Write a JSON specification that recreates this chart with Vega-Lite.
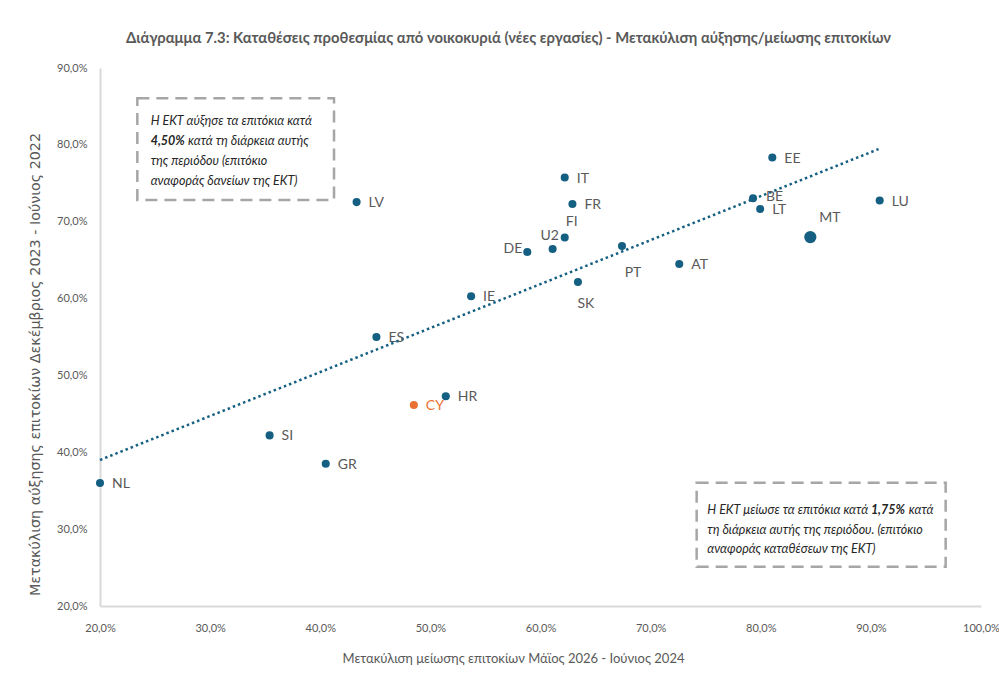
{
  "$schema": "https://vega.github.io/schema/vega-lite/v6.json",
  "width": 881,
  "height": 538,
  "autosize": {"type": "none"},
  "padding": {"left": 100, "top": 68, "right": 18, "bottom": 67},
  "background": "white",
  "config": {"view": {"stroke": null}, "font": "Lato"},
  "title": {
    "text": "Διάγραμμα 7.3: Καταθέσεις προθεσμίας από νοικοκυριά (νέες εργασίες) - Μετακύλιση αύξησης/μείωσης επιτοκίων",
    "font": "Lato",
    "fontSize": 14.8,
    "fontWeight": "bold",
    "color": "#595959",
    "anchor": "middle",
    "dx": -32,
    "offset": 16
  },
  "datasets": {
    "points": [
      {"country": "NL", "x": 20.0, "y": 36.0},
      {"country": "SI", "x": 35.4, "y": 42.2},
      {"country": "GR", "x": 40.5, "y": 38.5},
      {"country": "ES", "x": 45.1, "y": 55.0},
      {"country": "CY", "x": 48.5, "y": 46.15},
      {"country": "HR", "x": 51.4, "y": 47.3},
      {"country": "IE", "x": 53.7, "y": 60.3},
      {"country": "LV", "x": 43.3, "y": 72.55},
      {"country": "DE", "x": 58.8, "y": 66.05},
      {"country": "U2", "x": 61.1, "y": 66.45},
      {"country": "FI", "x": 62.2, "y": 67.95},
      {"country": "IT", "x": 62.2, "y": 75.75},
      {"country": "FR", "x": 62.9, "y": 72.3},
      {"country": "SK", "x": 63.4, "y": 62.15},
      {"country": "PT", "x": 67.4, "y": 66.85},
      {"country": "AT", "x": 72.6, "y": 64.5},
      {"country": "BE", "x": 79.3, "y": 73.05},
      {"country": "LT", "x": 79.95, "y": 71.65},
      {"country": "EE", "x": 81.05, "y": 78.35},
      {"country": "MT", "x": 84.5, "y": 68.0},
      {"country": "LU", "x": 90.8, "y": 72.75}
    ],
    "trend": [
      {"x": 20.0, "y": 39.0},
      {"x": 90.7, "y": 79.45}
    ],
    "notes": [
      {"text": "Η ΕΚΤ αύξησε τα επιτόκια κατά", "x": 24.6, "y": 83.1},
      {"text": "κατά τη διάρκεια αυτής", "x": 28.0, "y": 80.5},
      {"text": "της περιόδου (επιτόκιο", "x": 24.6, "y": 77.9},
      {"text": "αναφοράς δανείων της ΕΚΤ)", "x": 24.6, "y": 75.3},
      {"text": "Η ΕΚΤ μείωσε τα επιτόκια κατά", "x": 75.15, "y": 32.49},
      {"text": "κατά", "x": 93.45, "y": 32.49},
      {"text": "τη διάρκεια αυτής της περιόδου. (επιτόκιο", "x": 75.15, "y": 29.89},
      {"text": "αναφοράς καταθέσεων της ΕΚΤ)", "x": 75.15, "y": 27.42}
    ],
    "notesBold": [
      {"text": "4,50%", "x": 24.6, "y": 80.5},
      {"text": "1,75%", "x": 90.0, "y": 32.49}
    ],
    "boxes": [
      {"x": 23.39, "x2": 41.25, "y": 86.06, "y2": 72.83},
      {"x": 74.18, "x2": 96.79, "y": 36.04, "y2": 25.11}
    ]
  },
  "layer": [
    {
      "mark": {"type": "rect", "fill": null, "stroke": "#000000", "strokeWidth": 2, "clip": false},
      "encoding": {
        "x": {"datum": 11.9, "type": "quantitative", "scale": {"domain": [20, 100], "nice": false, "zero": false}},
        "x2": {"datum": 200},
        "y": {"datum": 97.5, "type": "quantitative", "scale": {"domain": [20, 90], "nice": false, "zero": false}},
        "y2": {"datum": -50}
      }
    },
    {
      "data": {"name": "boxes"},
      "mark": {"type": "rect", "fill": null, "stroke": "#A6A6A6", "strokeWidth": 2.5, "strokeDash": [12, 7]},
      "encoding": {
        "x": {"field": "x", "type": "quantitative"},
        "x2": {"field": "x2"},
        "y": {"field": "y", "type": "quantitative"},
        "y2": {"field": "y2"}
      }
    },
    {
      "data": {"name": "trend"},
      "mark": {"type": "line", "color": "#156082", "strokeWidth": 2.5, "strokeDash": [2.5, 3]},
      "encoding": {
        "x": {"field": "x", "type": "quantitative"},
        "y": {"field": "y", "type": "quantitative"}
      }
    },
    {
      "mark": {"type": "rule", "color": "#A6A6A6", "strokeWidth": 1},
      "encoding": {
        "x": {"datum": 67.5, "type": "quantitative"},
        "y": {"datum": 66.7, "type": "quantitative"},
        "x2": {"datum": 68.4},
        "y2": {"datum": 65.1}
      }
    },
    {
      "data": {"name": "points"},
      "mark": {"type": "circle", "opacity": 1},
      "encoding": {
        "x": {
          "field": "x",
          "type": "quantitative",
          "scale": {"domain": [20, 100], "nice": false, "zero": false},
          "axis": {
            "title": "Μετακύλιση μείωσης επιτοκίων Μάϊος 2026 - Ιούνιος 2024",
            "values": [20, 30, 40, 50, 60, 70, 80, 90, 100],
            "labelExpr": "replace(format(datum.value, '.1f'), '.', ',') + '%'",
            "labelFlush": false,
            "grid": false,
            "ticks": false,
            "domainColor": "#D9D9D9",
            "domainWidth": 2,
            "labelColor": "#595959",
            "labelFont": "Lato",
            "labelFontSize": 11,
            "labelPadding": 16,
            "titleColor": "#595959",
            "titleFont": "Lato",
            "titleFontSize": 13,
            "titleFontWeight": "normal",
            "titleX": 413,
            "titleY": 52,
            "titleAlign": "center",
            "titleBaseline": "middle"
          }
        },
        "y": {
          "field": "y",
          "type": "quantitative",
          "scale": {"domain": [20, 90], "nice": false, "zero": false},
          "axis": {
            "title": "Μετακύλιση αύξησης επιτοκίων Δεκέμβριος 2023 - Ιούνιος 2022",
            "values": [20, 30, 40, 50, 60, 70, 80, 90],
            "labelExpr": "replace(format(datum.value, '.1f'), '.', ',') + '%'",
            "labelFlush": false,
            "grid": false,
            "ticks": false,
            "domainColor": "#D9D9D9",
            "domainWidth": 2,
            "labelColor": "#595959",
            "labelFont": "Lato",
            "labelFontSize": 11,
            "labelPadding": 13,
            "titleColor": "#595959",
            "titleFont": "DejaVu Sans",
            "titleFontSize": 14.3,
            "titleFontWeight": "normal",
            "titleX": -65,
            "titleY": 296,
            "titleAngle": -90,
            "titleAlign": "center",
            "titleBaseline": "middle"
          }
        },
        "color": {
          "condition": {"test": "datum.country === 'CY'", "value": "#E97132"},
          "value": "#156082"
        },
        "size": {
          "condition": {"test": "datum.country === 'MT'", "value": 150},
          "value": 65
        }
      }
    },
    {
      "data": {"name": "points"},
      "transform": [{"filter": "indexof(['DE','U2','FI','PT','SK','MT','BE'], datum.country) < 0"}],
      "mark": {"type": "text", "align": "left", "baseline": "middle", "dx": 12, "dy": 1, "fontSize": 14, "font": "Lato"},
      "encoding": {
        "x": {"field": "x", "type": "quantitative"},
        "y": {"field": "y", "type": "quantitative"},
        "text": {"field": "country"},
        "color": {
          "condition": {"test": "datum.country === 'CY'", "value": "#E97132"},
          "value": "#595959"
        }
      }
    },
    {
      "data": {"name": "points"},
      "transform": [{"filter": "datum.country === 'BE'"}],
      "mark": {"type": "text", "align": "left", "baseline": "middle", "dx": 13, "dy": -1, "fontSize": 14, "color": "#595959", "font": "Lato"},
      "encoding": {
        "x": {"field": "x", "type": "quantitative"},
        "y": {"field": "y", "type": "quantitative"},
        "text": {"field": "country"}
      }
    },
    {
      "data": {"name": "points"},
      "transform": [{"filter": "datum.country === 'DE'"}],
      "mark": {"type": "text", "align": "right", "baseline": "middle", "dx": -5, "dy": -3, "fontSize": 14, "color": "#595959", "font": "Lato"},
      "encoding": {
        "x": {"field": "x", "type": "quantitative"},
        "y": {"field": "y", "type": "quantitative"},
        "text": {"field": "country"}
      }
    },
    {
      "data": {"name": "points"},
      "transform": [{"filter": "datum.country === 'U2'"}],
      "mark": {"type": "text", "align": "center", "baseline": "middle", "dx": -3, "dy": -13, "fontSize": 14, "color": "#595959", "font": "Lato"},
      "encoding": {
        "x": {"field": "x", "type": "quantitative"},
        "y": {"field": "y", "type": "quantitative"},
        "text": {"field": "country"}
      }
    },
    {
      "data": {"name": "points"},
      "transform": [{"filter": "datum.country === 'FI'"}],
      "mark": {"type": "text", "align": "center", "baseline": "middle", "dx": 7, "dy": -15, "fontSize": 14, "color": "#595959", "font": "Lato"},
      "encoding": {
        "x": {"field": "x", "type": "quantitative"},
        "y": {"field": "y", "type": "quantitative"},
        "text": {"field": "country"}
      }
    },
    {
      "data": {"name": "points"},
      "transform": [{"filter": "datum.country === 'PT'"}],
      "mark": {"type": "text", "align": "center", "baseline": "middle", "dx": 11, "dy": 27, "fontSize": 14, "color": "#595959", "font": "Lato"},
      "encoding": {
        "x": {"field": "x", "type": "quantitative"},
        "y": {"field": "y", "type": "quantitative"},
        "text": {"field": "country"}
      }
    },
    {
      "data": {"name": "points"},
      "transform": [{"filter": "datum.country === 'SK'"}],
      "mark": {"type": "text", "align": "center", "baseline": "middle", "dx": 8, "dy": 22, "fontSize": 14, "color": "#595959", "font": "Lato"},
      "encoding": {
        "x": {"field": "x", "type": "quantitative"},
        "y": {"field": "y", "type": "quantitative"},
        "text": {"field": "country"}
      }
    },
    {
      "data": {"name": "points"},
      "transform": [{"filter": "datum.country === 'MT'"}],
      "mark": {"type": "text", "align": "left", "baseline": "middle", "dx": 9, "dy": -19, "fontSize": 14, "color": "#595959", "font": "Lato"},
      "encoding": {
        "x": {"field": "x", "type": "quantitative"},
        "y": {"field": "y", "type": "quantitative"},
        "text": {"field": "country"}
      }
    },
    {
      "data": {"name": "notes"},
      "mark": {"type": "text", "align": "left", "baseline": "middle", "fontSize": 12.5, "fontStyle": "italic", "color": "#262626", "font": "Lato"},
      "encoding": {
        "x": {"field": "x", "type": "quantitative"},
        "y": {"field": "y", "type": "quantitative"},
        "text": {"field": "text"}
      }
    },
    {
      "data": {"name": "notesBold"},
      "mark": {"type": "text", "align": "left", "baseline": "middle", "fontSize": 12.5, "fontStyle": "italic", "fontWeight": "bold", "color": "#262626", "font": "Lato"},
      "encoding": {
        "x": {"field": "x", "type": "quantitative"},
        "y": {"field": "y", "type": "quantitative"},
        "text": {"field": "text"}
      }
    }
  ]
}
